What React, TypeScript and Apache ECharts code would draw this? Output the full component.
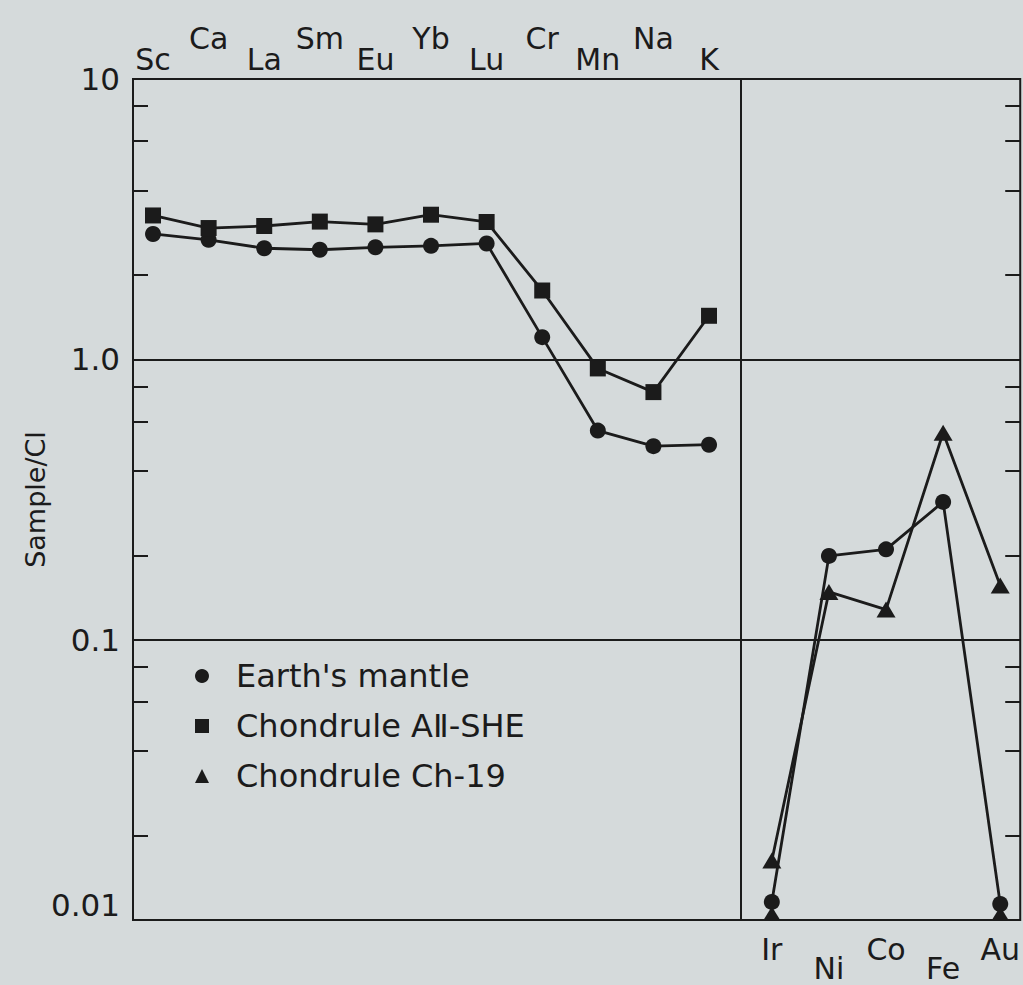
import React, { useEffect, useRef } from "react";
import * as echarts from "echarts";

// ---- data (Sample / CI) ----
const lithophileElements = ["Sc", "Ca", "La", "Sm", "Eu", "Yb", "Lu", "Cr", "Mn", "Na", "K"];
const siderophileElements = ["Ir", "Ni", "Co", "Fe", "Au"];

const mantleLithophile = [2.8, 2.67, 2.49, 2.46, 2.51, 2.54, 2.59, 1.2, 0.557, 0.49, 0.496];
const alSheLithophile = [3.26, 2.94, 2.99, 3.1, 3.03, 3.28, 3.09, 1.76, 0.928, 0.764, 1.43];

const mantleSiderophile = [0.0116, 0.199, 0.21, 0.31, 0.0114];
const ch19Siderophile = [0.0163, 0.148, 0.128, 0.547, 0.156];
const ch19Floor = [0.0106, null, null, null, 0.0106];

const yMajorValues = [0.01, 0.1, 1, 10];
const yMajorLabels = ["0.01", "0.1", "1.0", "10"];
const yMinorValues = [0.02, 0.04, 0.06, 0.08, 0.2, 0.4, 0.6, 0.8, 2, 4, 6, 8];

const legendNames = ["Earth's mantle", "Chondrule AⅡ-SHE", "Chondrule Ch-19"];

const INK = "#1b1b1b";
const FONT = "DejaVu Sans";
const PAPER = "#d5dadb";

function majorLabel(v: number): string {
  for (let i = 0; i < yMajorValues.length; i++) {
    if (Math.abs(Math.log10(v) - Math.log10(yMajorValues[i])) < 1e-6) return yMajorLabels[i];
  }
  return "";
}

function makeXAxis(gridIndex: number, names: string[], min: number, max: number, position: string, margin: number, farPad: number[]) {
  return {
    type: "value",
    gridIndex,
    min,
    max,
    position,
    axisLine: { show: false, onZero: false },
    axisTick: { show: false },
    splitLine: { show: false },
    axisLabel: {
      customValues: names.map((_, i) => i),
      margin,
      formatter: (v: number) => {
        const i = Math.round(v);
        return i % 2 ? `{far|${names[i]}}` : `{near|${names[i]}}`;
      },
      rich: {
        near: { fontSize: 30, fontFamily: FONT, color: INK },
        far: { fontSize: 30, fontFamily: FONT, color: INK, padding: farPad },
      },
    },
  };
}

function tickAxis(gridIndex: number, position: string, withLabels: boolean) {
  return {
    type: "log",
    logBase: 10,
    gridIndex,
    min: 0.01,
    max: 10,
    position,
    axisLine: { show: false, onZero: false },
    splitLine: { show: false },
    axisTick: {
      show: true,
      inside: true,
      length: 15,
      customValues: yMinorValues,
      lineStyle: { color: INK, width: 2 },
    },
    axisLabel: withLabels
      ? {
          show: true,
          customValues: yMajorValues,
          formatter: (v: number) => majorLabel(v),
          margin: 13,
          fontSize: 31,
          fontFamily: FONT,
          color: INK,
          verticalAlignMinLabel: "bottom",
        }
      : { show: false },
    name: withLabels ? "Sample/Cl" : "",
    nameLocation: "middle",
    nameGap: 84,
    nameMoveOverlap: false,
    nameTextStyle: { fontSize: 27, fontFamily: FONT, color: INK },
  };
}

function splitAxis(gridIndex: number, position: string) {
  return {
    type: "log",
    logBase: 10,
    gridIndex,
    min: 0.01,
    max: 10,
    position,
    axisLine: { show: false, onZero: false },
    axisTick: { show: false },
    axisLabel: { show: false },
    splitLine: { show: true, lineStyle: { color: INK, width: 2 } },
  };
}

const lineBase = {
  type: "line",
  symbolSize: 16,
  lineStyle: { color: INK, width: 2.8 },
  itemStyle: { color: INK, opacity: 1 },
  emphasis: { disabled: true },
};

export default function App() {
  const ref = useRef<HTMLDivElement>(null);

  useEffect(() => {
    if (!ref.current) return;
    const chart = echarts.init(ref.current, undefined, { renderer: "svg" });
    const option = {
      animation: false,
      backgroundColor: "transparent",
      grid: [
        { left: 133, top: 79, width: 608, height: 841, show: true, borderColor: INK, borderWidth: 2, backgroundColor: "transparent" },
        { left: 741, top: 79, width: 280, height: 841, show: true, borderColor: INK, borderWidth: 2, backgroundColor: "transparent" },
      ],
      xAxis: [
        makeXAxis(0, lithophileElements, -0.36, 10.575, "top", 5, [0, 0, 21, 0]),
        makeXAxis(1, siderophileElements, -0.54, 4.35, "bottom", 14, [19, 0, 0, 0]),
      ],
      yAxis: [tickAxis(0, "left", true), splitAxis(0, "right"), tickAxis(1, "right", false), splitAxis(1, "left")],
      legend: {
        orient: "vertical",
        left: 190,
        top: 655,
        itemWidth: 14,
        itemHeight: 14,
        itemGap: 18,
        selectedMode: false,
        data: [
          { name: legendNames[0], icon: "circle" },
          { name: legendNames[1], icon: "rect" },
          { name: legendNames[2], icon: "triangle" },
        ],
        formatter: (name: string) => `{t|${name}}`,
        textStyle: {
          rich: { t: { fontSize: 32, fontFamily: FONT, color: INK, padding: [0, 0, 0, 22] } },
        },
      },
      series: [
        {
          ...lineBase,
          name: legendNames[0],
          xAxisIndex: 0,
          yAxisIndex: 0,
          symbol: "circle",
          data: mantleLithophile.map((v, i) => [i, v]),
        },
        {
          ...lineBase,
          name: legendNames[1],
          xAxisIndex: 0,
          yAxisIndex: 0,
          symbol: "rect",
          data: alSheLithophile.map((v, i) => [i, v]),
        },
        {
          ...lineBase,
          name: legendNames[0],
          xAxisIndex: 1,
          yAxisIndex: 2,
          symbol: "circle",
          data: mantleSiderophile.map((v, i) => [i, v]),
        },
        {
          ...lineBase,
          name: legendNames[2],
          xAxisIndex: 1,
          yAxisIndex: 2,
          symbol: "triangle",
          symbolSize: [19, 16],
          data: ch19Siderophile.map((v, i) => [i, v]),
        },
        {
          type: "scatter",
          name: "Ch-19 floor",
          xAxisIndex: 1,
          yAxisIndex: 2,
          symbol: "triangle",
          symbolSize: [16, 13],
          itemStyle: { color: INK, opacity: 1 },
          emphasis: { disabled: true },
          data: ch19Floor.map((v, i) => (v == null ? null : [i, v])).filter((d) => d != null),
        },
      ],
    };
    chart.setOption(option as any);
    return () => chart.dispose();
  }, []);

  return (
    <div
      ref={ref}
      style={{ position: "fixed", left: 0, top: 0, width: 1023, height: 985, background: PAPER }}
    />
  );
}
